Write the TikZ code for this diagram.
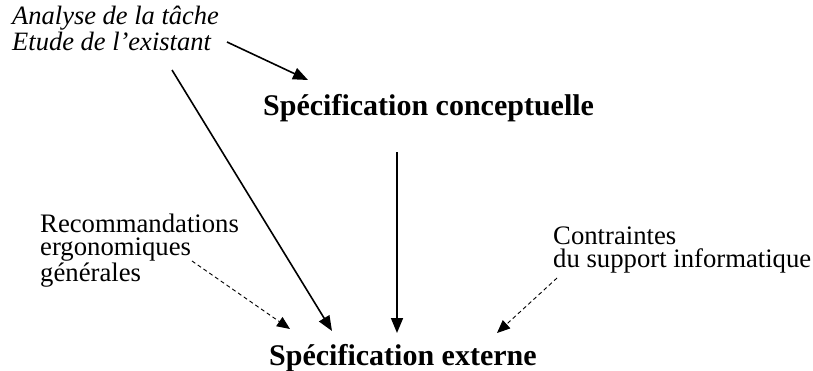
\documentclass[tikz,border=0pt]{standalone}
\usepackage{fontspec}
\setmainfont{Liberation Serif}
\usetikzlibrary{arrows.meta,calc}

\tikzset{
  txt/.style={inner sep=0pt, anchor=base west, align=left},
  small/.style={txt, font=\fontsize{26.7}{22.8}\selectfont},
  smallit/.style={txt, font=\fontsize{26.5}{22}\selectfont\itshape},
  title/.style={txt, font=\fontsize{30}{32}\selectfont\bfseries},
  arr/.style={line width=1.6pt, -{Triangle[length=15pt,width=12pt]}},
  darr/.style={line width=0.9pt, dash pattern=on 4pt off 3pt,
               -{Triangle[length=13pt,width=11pt]}}
}

\begin{document}
\begin{tikzpicture}[x=1pt,y=-1pt]
  \useasboundingbox (0,0) rectangle (813,370);

  % sources and phases (multi-line nodes sit on their last baseline)
  \node[smallit] (ana) at (12,50) {Analyse de la tâche\\Etude de l'existant};
  \node[title] (concept) at (263,115) {Spécification conceptuelle};
  \node[small] (reco) at (40,281) {Recommandations\\ergonomiques\\générales};
  \node[small] (contr) at (553,267) {Contraintes\\du support informatique};
  \node[title] (ext) at (269,365) {Spécification externe};

  % solid flows
  \draw[arr] ($(ana.base west)+(215,-8)$) -- ($(concept.base west)+(45,-35)$);
  \draw[arr] ($(ana.base west)+(160,20)$) -- ($(ext.base west)+(63,-34)$);
  \draw[arr] ($(concept.base west)+(134,37)$) -- ($(ext.base west)+(128,-32)$);

  % dashed influences
  \draw[darr] ($(reco.base west)+(152,-20)$) -- ($(ext.base west)+(21,-36)$);
  \draw[darr] ($(contr.base west)+(4,11)$) -- ($(ext.base west)+(228,-32)$);
\end{tikzpicture}
\end{document}
